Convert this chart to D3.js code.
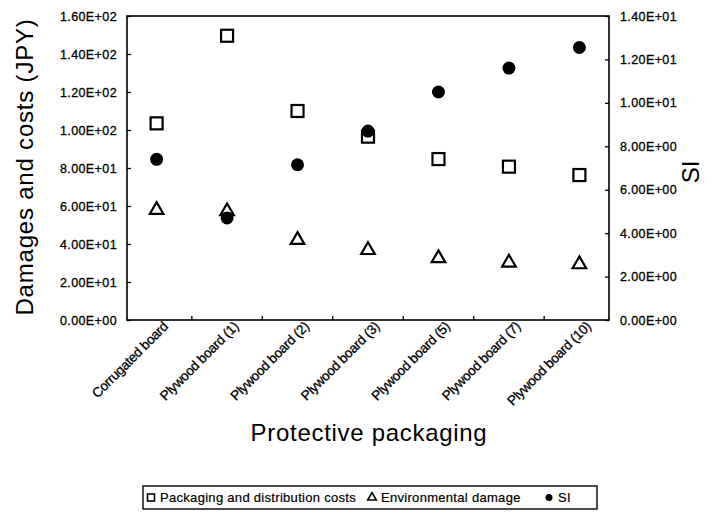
<!DOCTYPE html>
<html>
<head>
<meta charset="utf-8">
<script src="https://cdn.jsdelivr.net/npm/d3@7"></script>
<style>
  body { margin: 0; background: #fff; }
  text { font-family: "Liberation Sans", Arial, sans-serif; fill: #000; }
</style>
</head>
<body>
<script>
// categories and values
var categories = ['Corrugated board', 'Plywood board (1)', 'Plywood board (2)', 'Plywood board (3)',
                  'Plywood board (5)', 'Plywood board (7)', 'Plywood board (10)'];
var costs = [103.5, 149.6, 110, 96.5, 84.7, 80.7, 76.3];
var envDamage = [57.9, 57.2, 42.1, 36.8, 32.5, 30.2, 29.3];
var si = [7.4, 4.7, 7.15, 8.7, 10.5, 11.6, 12.55];
var leftTicks = [0, 20, 40, 60, 80, 100, 120, 140, 160];
var rightTicks = [0, 2, 4, 6, 8, 10, 12, 14];

var width = 724, height = 525;
var plot = {left: 127, right: 609, top: 16, bottom: 320};

var svg = d3.select('body').append('svg')
    .attr('width', width)
    .attr('height', height);

var x = d3.scalePoint().domain(categories).range([plot.left, plot.right]).padding(0.42);
var yL = d3.scaleLinear().domain([0, 160]).range([plot.bottom, plot.top]);
var yR = d3.scaleLinear().domain([0, 14]).range([plot.bottom, plot.top]);

function sci(v) {
    // 1.60E+02 style
    var s = v.toExponential(2).toUpperCase();
    return s.replace(/E([+-])(\d)$/, 'E$10$2');
}

// frame
svg.append('rect')
    .attr('x', plot.left).attr('y', plot.top)
    .attr('width', plot.right - plot.left).attr('height', plot.bottom - plot.top)
    .attr('fill', 'none').attr('stroke', '#000').attr('stroke-width', 1.6);

var leftAxis = svg.append('g')
    .attr('transform', 'translate(' + plot.left + ',0)')
    .call(d3.axisRight(yL).tickValues(leftTicks).tickSize(4).tickFormat(sci));
leftAxis.select('.domain').remove();
leftAxis.selectAll('line').attr('stroke-width', 1.3);
leftAxis.selectAll('text')
    .attr('x', -10).attr('text-anchor', 'end')
    .style('font-size', '12.5px').style('letter-spacing', '0.4px')
    .style('stroke', '#000').style('stroke-width', '0.3px');

var rightAxis = svg.append('g')
    .attr('transform', 'translate(' + plot.right + ',0)')
    .call(d3.axisLeft(yR).tickValues(rightTicks).tickSize(4).tickFormat(sci));
rightAxis.select('.domain').remove();
rightAxis.selectAll('line').attr('stroke-width', 1.3);
rightAxis.selectAll('text')
    .attr('x', 11).attr('text-anchor', 'start')
    .style('font-size', '12.5px').style('letter-spacing', '0.4px')
    .style('stroke', '#000').style('stroke-width', '0.3px');

// ticks on the bottom sit between categories
var step = x.step();
var bottomTicks = categories.slice(1).map(function(c) { return x(c) - step / 2; });
svg.append('g').selectAll('line')
    .data(bottomTicks)
    .join('line')
    .attr('x1', d => d).attr('x2', d => d)
    .attr('y1', plot.bottom).attr('y2', plot.bottom - 4)
    .attr('stroke', '#000').attr('stroke-width', 1.3);

// category labels
svg.append('g').selectAll('text')
    .data(categories)
    .join('text')
    .attr('transform', d => 'translate(' + (x(d) + 9) + ',' + (plot.bottom + 4) + ') rotate(-45)')
    .attr('text-anchor', 'end')
    .attr('dy', '0.35em')
    .style('font-size', '13.5px')
    .style('letter-spacing', '-0.3px')
    .style('stroke', '#000').style('stroke-width', '0.3px')
    .text(d => d);

// axis titles
svg.append('text')
    .attr('transform', 'translate(33,167) rotate(-90)')
    .attr('text-anchor', 'middle')
    .style('font-size', '24px').style('letter-spacing', '0.8px')
    .text('Damages and costs (JPY)');

svg.append('text')
    .attr('transform', 'translate(699,172) rotate(-90)')
    .attr('text-anchor', 'middle')
    .style('font-size', '24px')
    .text('SI');

svg.append('text')
    .attr('x', 369).attr('y', 441)
    .attr('text-anchor', 'middle')
    .style('font-size', '24px').style('letter-spacing', '0.7px')
    .text('Protective packaging');

// series
var sq = 12;
svg.append('g').selectAll('rect')
    .data(costs)
    .join('rect')
    .attr('x', (d, i) => x(categories[i]) - sq / 2)
    .attr('y', d => yL(d) - sq / 2)
    .attr('width', sq).attr('height', sq)
    .attr('fill', 'none').attr('stroke', '#000').attr('stroke-width', 2.2);

var tri = d3.symbol().type(d3.symbolTriangle).size(80);
svg.append('g').selectAll('path')
    .data(envDamage)
    .join('path')
    .attr('d', tri)
    .attr('transform', (d, i) => 'translate(' + x(categories[i]) + ',' + yL(d) + ')')
    .attr('fill', 'none').attr('stroke', '#000').attr('stroke-width', 2.2);

svg.append('g').selectAll('circle')
    .data(si)
    .join('circle')
    .attr('cx', (d, i) => x(categories[i]))
    .attr('cy', d => yR(d))
    .attr('r', 6.5)
    .attr('fill', '#000');

// legend
var legend = svg.append('g');
legend.append('rect')
    .attr('x', 143).attr('y', 486)
    .attr('width', 454).attr('height', 23)
    .attr('fill', 'none').attr('stroke', '#000').attr('stroke-width', 1.4);

var legendItems = [
    {label: 'Packaging and distribution costs', kind: 'square', x: 151},
    {label: 'Environmental damage', kind: 'triangle', x: 372},
    {label: 'SI', kind: 'circle', x: 549}
];
legendItems.forEach(function(it) {
    var cy = 497.5;
    if (it.kind === 'square') {
        legend.append('rect').attr('x', it.x - 3.5).attr('y', cy - 3.5).attr('width', 7).attr('height', 7)
            .attr('fill', 'none').attr('stroke', '#000').attr('stroke-width', 1.6);
    } else if (it.kind === 'triangle') {
        legend.append('path').attr('d', d3.symbol().type(d3.symbolTriangle).size(32))
            .attr('transform', 'translate(' + it.x + ',' + cy + ')')
            .attr('fill', 'none').attr('stroke', '#000').attr('stroke-width', 1.6);
    } else {
        legend.append('circle').attr('cx', it.x).attr('cy', cy).attr('r', 3.5).attr('fill', '#000');
    }
    legend.append('text')
        .attr('x', it.x + 9).attr('y', cy)
        .attr('dy', '0.35em')
        .style('font-size', '13px').style('letter-spacing', '0.3px')
        .style('stroke', '#000').style('stroke-width', '0.2px')
        .text(it.label);
});
</script>
</body>
</html>
